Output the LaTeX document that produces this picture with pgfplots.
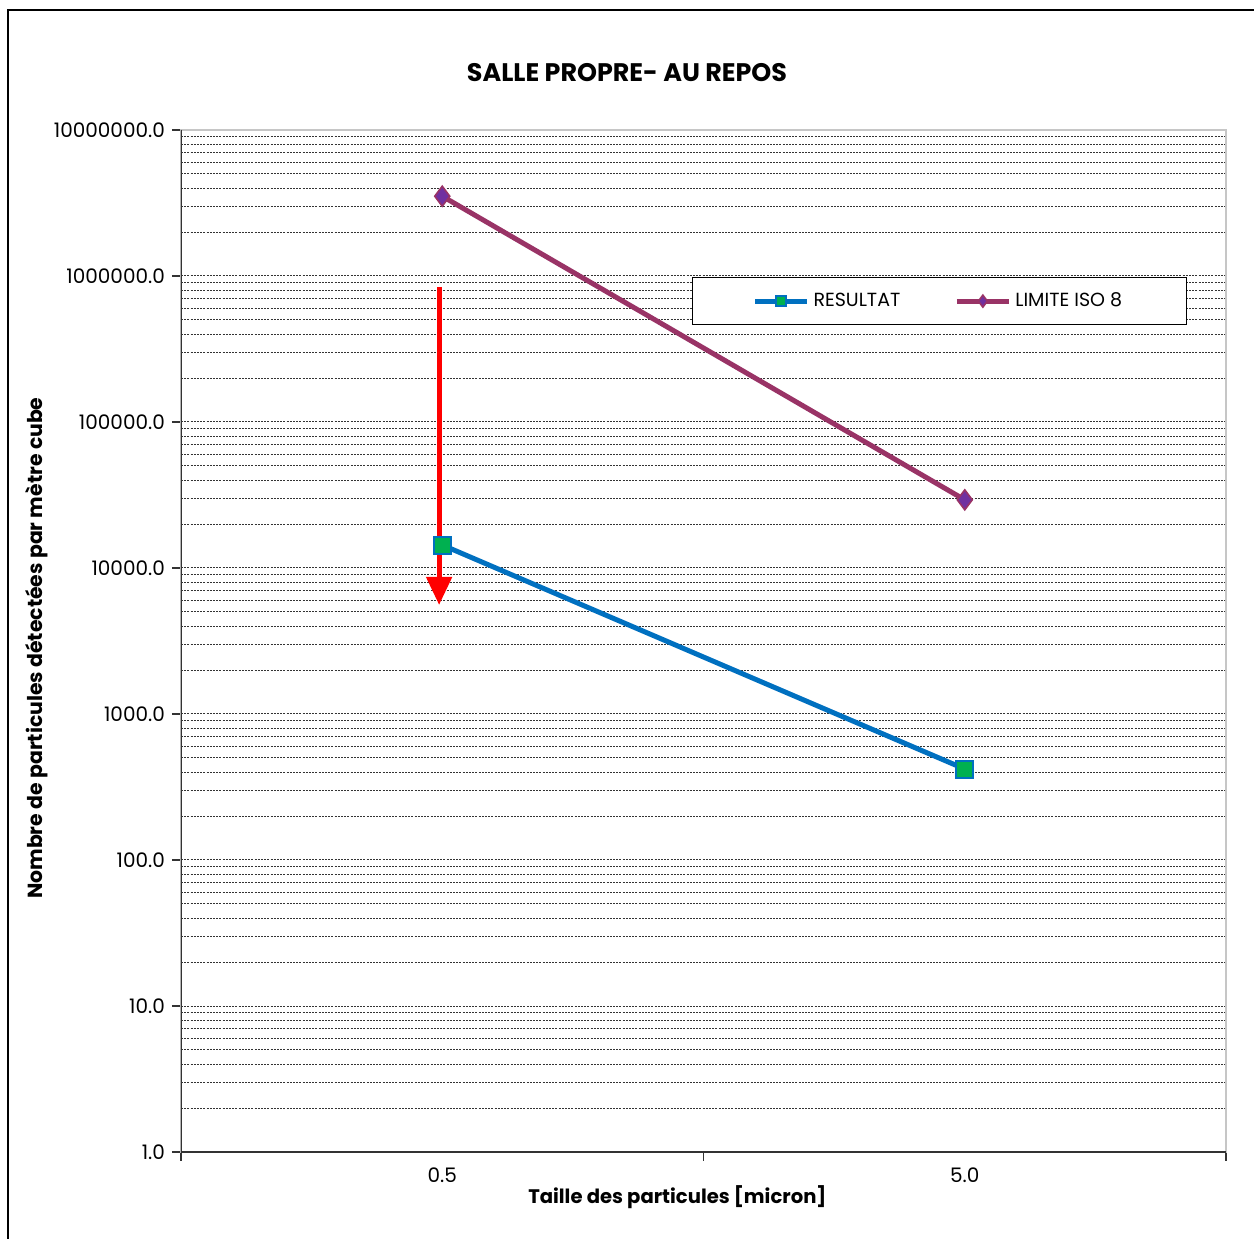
\documentclass[border=0pt]{standalone}
\usepackage{fontspec}
\setmainfont{Poppins}
\usepackage{pgfplots}
\pgfplotsset{compat=1.18}
\usetikzlibrary{arrows.meta}
\definecolor{resblue}{HTML}{0070C0}
\definecolor{resgreen}{HTML}{00B050}
\definecolor{limline}{HTML}{993366}
\definecolor{limfill}{HTML}{7030A0}
\begin{document}
\begin{tikzpicture}[x=1pt,y=1pt]
\useasboundingbox (0,0) rectangle (627,619);
\draw[black, line width=0.6pt] (4,-20) -- (4,614) -- (660,614);
\node[font=\bfseries\fontsize{12.7}{15}\selectfont] at (313.5,582.5) {SALLE PROPRE- AU REPOS};
\begin{axis}[
  at={(90.5pt,43pt)}, anchor=south west, scale only axis,
  width=522.5pt, height=511pt,
  ymode=log, ymin=1, ymax=1e7, xmin=-0.5, xmax=1.5,
  xtick={0,1}, xticklabels={0.5,5.0},
  major x tick style={draw=none},
  minor xtick={-0.5,0.5,1.5},
  ytick={1,10,100,1000,10000,100000,1000000,10000000},
  yticklabels={1.0,10.0,100.0,1000.0,10000.0,100000.0,1000000.0,10000000.0},
  minor ytick={2,3,4,5,6,7,8,9,20,30,40,50,60,70,80,90,200,300,400,500,600,700,800,900,2000,3000,4000,5000,6000,7000,8000,9000,20000,30000,40000,50000,60000,70000,80000,90000,200000,300000,400000,500000,600000,700000,800000,900000,2000000,3000000,4000000,5000000,6000000,7000000,8000000,9000000},
  minor y tick style={draw=none},
  ymajorgrids, yminorgrids,
  major grid style={black!80, line width=0.5pt, dash pattern=on 1pt off 0.6pt},
  minor grid style={black!80, line width=0.5pt, dash pattern=on 1pt off 0.6pt},
  tick align=outside, major tick length=4.5pt, minor tick length=4.5pt,
  tick style={black!80, line width=0.6pt},
  ytick pos=left, xtick pos=bottom,
  axis line style={gray!45, line width=0.8pt},
  tick label style={font=\fontsize{10}{12}\selectfont},
  xlabel={Taille des particules [micron]},
  ylabel={Nombre de particules détectées par mètre cube},
  xlabel style={font=\bfseries\fontsize{9.8}{12}\selectfont, at={(axis description cs:0.475,-0.044)}, anchor=center},
  ylabel style={font=\bfseries\fontsize{10.2}{12}\selectfont, at={(axis description cs:-0.138,0.493)}, anchor=center},
  legend style={at={(0.489,0.856)}, anchor=north west, draw=black, line width=0.5pt,
    font=\fontsize{9.5}{11}\selectfont, inner xsep=30pt, inner ysep=5.5pt,
    /tikz/every even column/.append style={column sep=25pt}},
  legend columns=2,
  legend image code/.code={\draw[mark repeat=2,mark phase=2,#1,every mark/.append style={scale=0.6}] plot coordinates {(0pt,0pt) (13pt,0pt) (26pt,0pt)};},
]
\addplot[resblue, line width=2.5pt, mark=square*, mark size=4.25pt,
  mark options={fill=resgreen, draw=resblue, line width=1pt, solid}]
  coordinates {(0,14370) (1,420)};
\addlegendentry{RESULTAT}
\addplot[limline, line width=2.5pt, mark=diamond*, mark size=5pt,
  mark options={fill=limfill, draw=limline, line width=0.8pt, solid}]
  coordinates {(0,3520000) (1,29300)};
\addlegendentry{LIMITE ISO 8}
\addplot[red, line width=2.5pt, -{Triangle[width=12.5pt,length=14pt]}, forget plot]
  coordinates {(-0.006,841000) (-0.006,5585)};
\draw[black!80, line width=0.8pt] (rel axis cs:0,1) -- (rel axis cs:0,0) -- (rel axis cs:1,0);
\end{axis}
\end{tikzpicture}
\end{document}
